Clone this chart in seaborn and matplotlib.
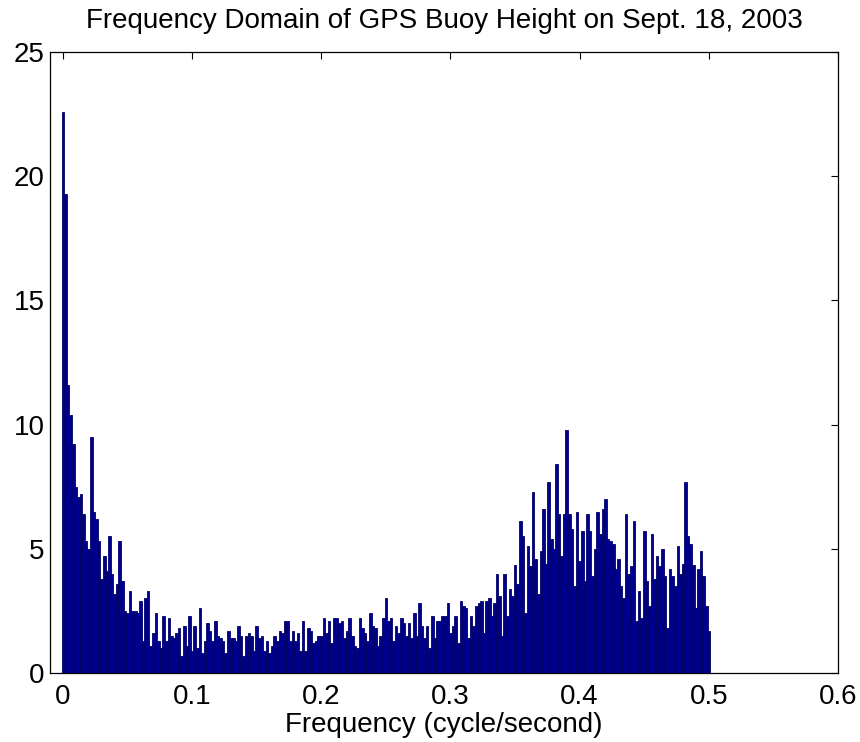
import numpy as np
import pandas as pd
import matplotlib
matplotlib.use('Agg')
import matplotlib.pyplot as plt
import seaborn as sns

# spectrum amplitude, one value per 0.002 cycle/second bin (0 .. 0.5)
amp_low = [22.6, 19.3, 11.6, 10.4, 9.2, 7.5, 7.1, 7.2, 6.4, 5.3,
           5.0, 9.5, 6.5, 6.2, 5.3, 3.8, 4.7, 4.1, 5.5, 4.0,
           3.2, 3.6, 5.3, 3.7, 2.5, 2.4, 3.3, 2.5, 2.5, 2.4,
           2.9, 1.3, 3.0, 3.3, 1.1, 1.6, 2.4, 1.3, 1.0, 2.3]
amp_mid = [1.3, 2.2, 1.5, 1.4, 1.6, 1.8, 0.7, 1.9, 1.1, 2.3,
           0.9, 1.9, 1.0, 2.6, 0.8, 1.3, 2.0, 1.7, 1.3, 2.1,
           1.5, 1.4, 1.3, 0.8, 1.7, 1.4, 1.4, 1.3, 1.9, 1.5,
           0.7, 1.5, 1.6, 1.5, 0.9, 1.9, 1.4, 1.5, 0.9, 1.3,
           0.8, 1.1, 1.5, 1.3, 1.7, 1.6, 2.1, 2.1, 1.3, 1.7,
           1.3, 1.6, 0.9, 2.1, 0.9, 1.8, 1.7, 1.2, 1.3, 1.5,
           1.5, 2.2, 1.6, 2.1, 1.2, 2.2, 2.2, 2.0, 2.1, 1.4,
           1.7, 2.2, 1.5, 1.1, 1.0, 2.2, 1.8, 1.6, 1.3, 2.4,
           1.9, 1.8, 1.1, 1.5, 2.2, 3.0, 2.1, 2.2, 1.3, 1.9,
           1.6, 2.2, 2.0, 1.5, 2.0, 1.4, 2.4, 1.5, 2.8, 1.9,
           1.4, 1.9, 1.0, 2.3, 1.4, 2.1, 2.1, 2.3, 2.3, 2.8,
           1.6, 1.9, 2.3, 1.2, 2.9, 2.7, 2.6, 1.4, 2.3, 1.9,
           2.7, 2.8, 2.9, 1.6, 2.9, 3.0, 2.3, 2.8, 4.0, 3.1]
amp_high = [1.5, 4.0, 2.3, 3.4, 3.1, 4.35, 3.6, 6.1, 5.5, 2.4,
            5.1, 4.3, 7.3, 4.6, 3.2, 4.9, 6.6, 4.4, 7.7, 5.4,
            5.0, 8.4, 6.4, 4.7, 6.4, 9.8, 6.4, 5.8, 3.5, 6.5,
            4.5, 5.7, 3.7, 6.4, 5.7, 3.9, 5.0, 6.5, 5.6, 6.6,
            7.0, 5.4, 5.3, 5.2, 4.2, 4.6, 3.5, 3.0, 6.4, 4.0,
            4.3, 6.1, 2.1, 3.3, 2.2, 5.7, 3.7, 2.7, 5.6, 3.8,
            4.7, 4.3, 5.0, 3.9, 1.8, 4.2, 3.9, 3.5, 5.1, 4.0,
            4.4, 7.7, 5.5, 5.2, 4.35, 2.6, 4.2, 4.9, 3.9, 2.7,
            1.7]

x_ticks = [0, 0.1, 0.2, 0.3, 0.4, 0.5, 0.6]
y_ticks = [0, 5, 10, 15, 20, 25]

amp = amp_low + amp_mid + amp_high
freq = np.round(np.linspace(0, 0.5, len(amp)), 4)
df = pd.DataFrame({'freq': freq, 'amp': amp})

sns.set_style('white', {'text.color': 'black', 'xtick.color': 'black',
                        'ytick.color': 'black', 'axes.labelcolor': 'black',
                        'axes.edgecolor': 'black'})
plt.rcParams['font.family'] = ['Liberation Sans', 'DejaVu Sans']

fig = plt.figure(figsize=(8.6, 7.42), dpi=100)
ax = fig.add_axes([50 / 860, 69 / 742, 788 / 860, 621 / 742])

sns.barplot(data=df, x='freq', y='amp', native_scale=True, width=1.0,
            color='#00008F', saturation=1, errorbar=None,
            edgecolor='#00006A', linewidth=0.6, ax=ax)

ax.set_xlim(-0.01, 0.6)
ax.set_ylim(0, 25)
ax.set_xticks(x_ticks)
ax.set_xticklabels(['0', '0.1', '0.2', '0.3', '0.4', '0.5', '0.6'])
ax.set_yticks(y_ticks)
ax.set_yticklabels([str(v) for v in y_ticks])
ax.tick_params(direction='in', top=True, right=True, length=5, width=0.8,
               labelsize=20, color='black', labelcolor='black')
ax.tick_params(axis='x', pad=8)
ax.tick_params(axis='y', pad=4)
for s in ax.spines.values():
    s.set_color('black')
    s.set_linewidth(0.9)

ax.set_title('Frequency Domain of GPS Buoy Height on Sept. 18, 2003',
             fontsize=20, pad=17, color='black')
ax.set_xlabel('Frequency (cycle/second)', fontsize=20, labelpad=1, color='black')
ax.set_ylabel('')

fig.savefig('out.png', dpi=100)
